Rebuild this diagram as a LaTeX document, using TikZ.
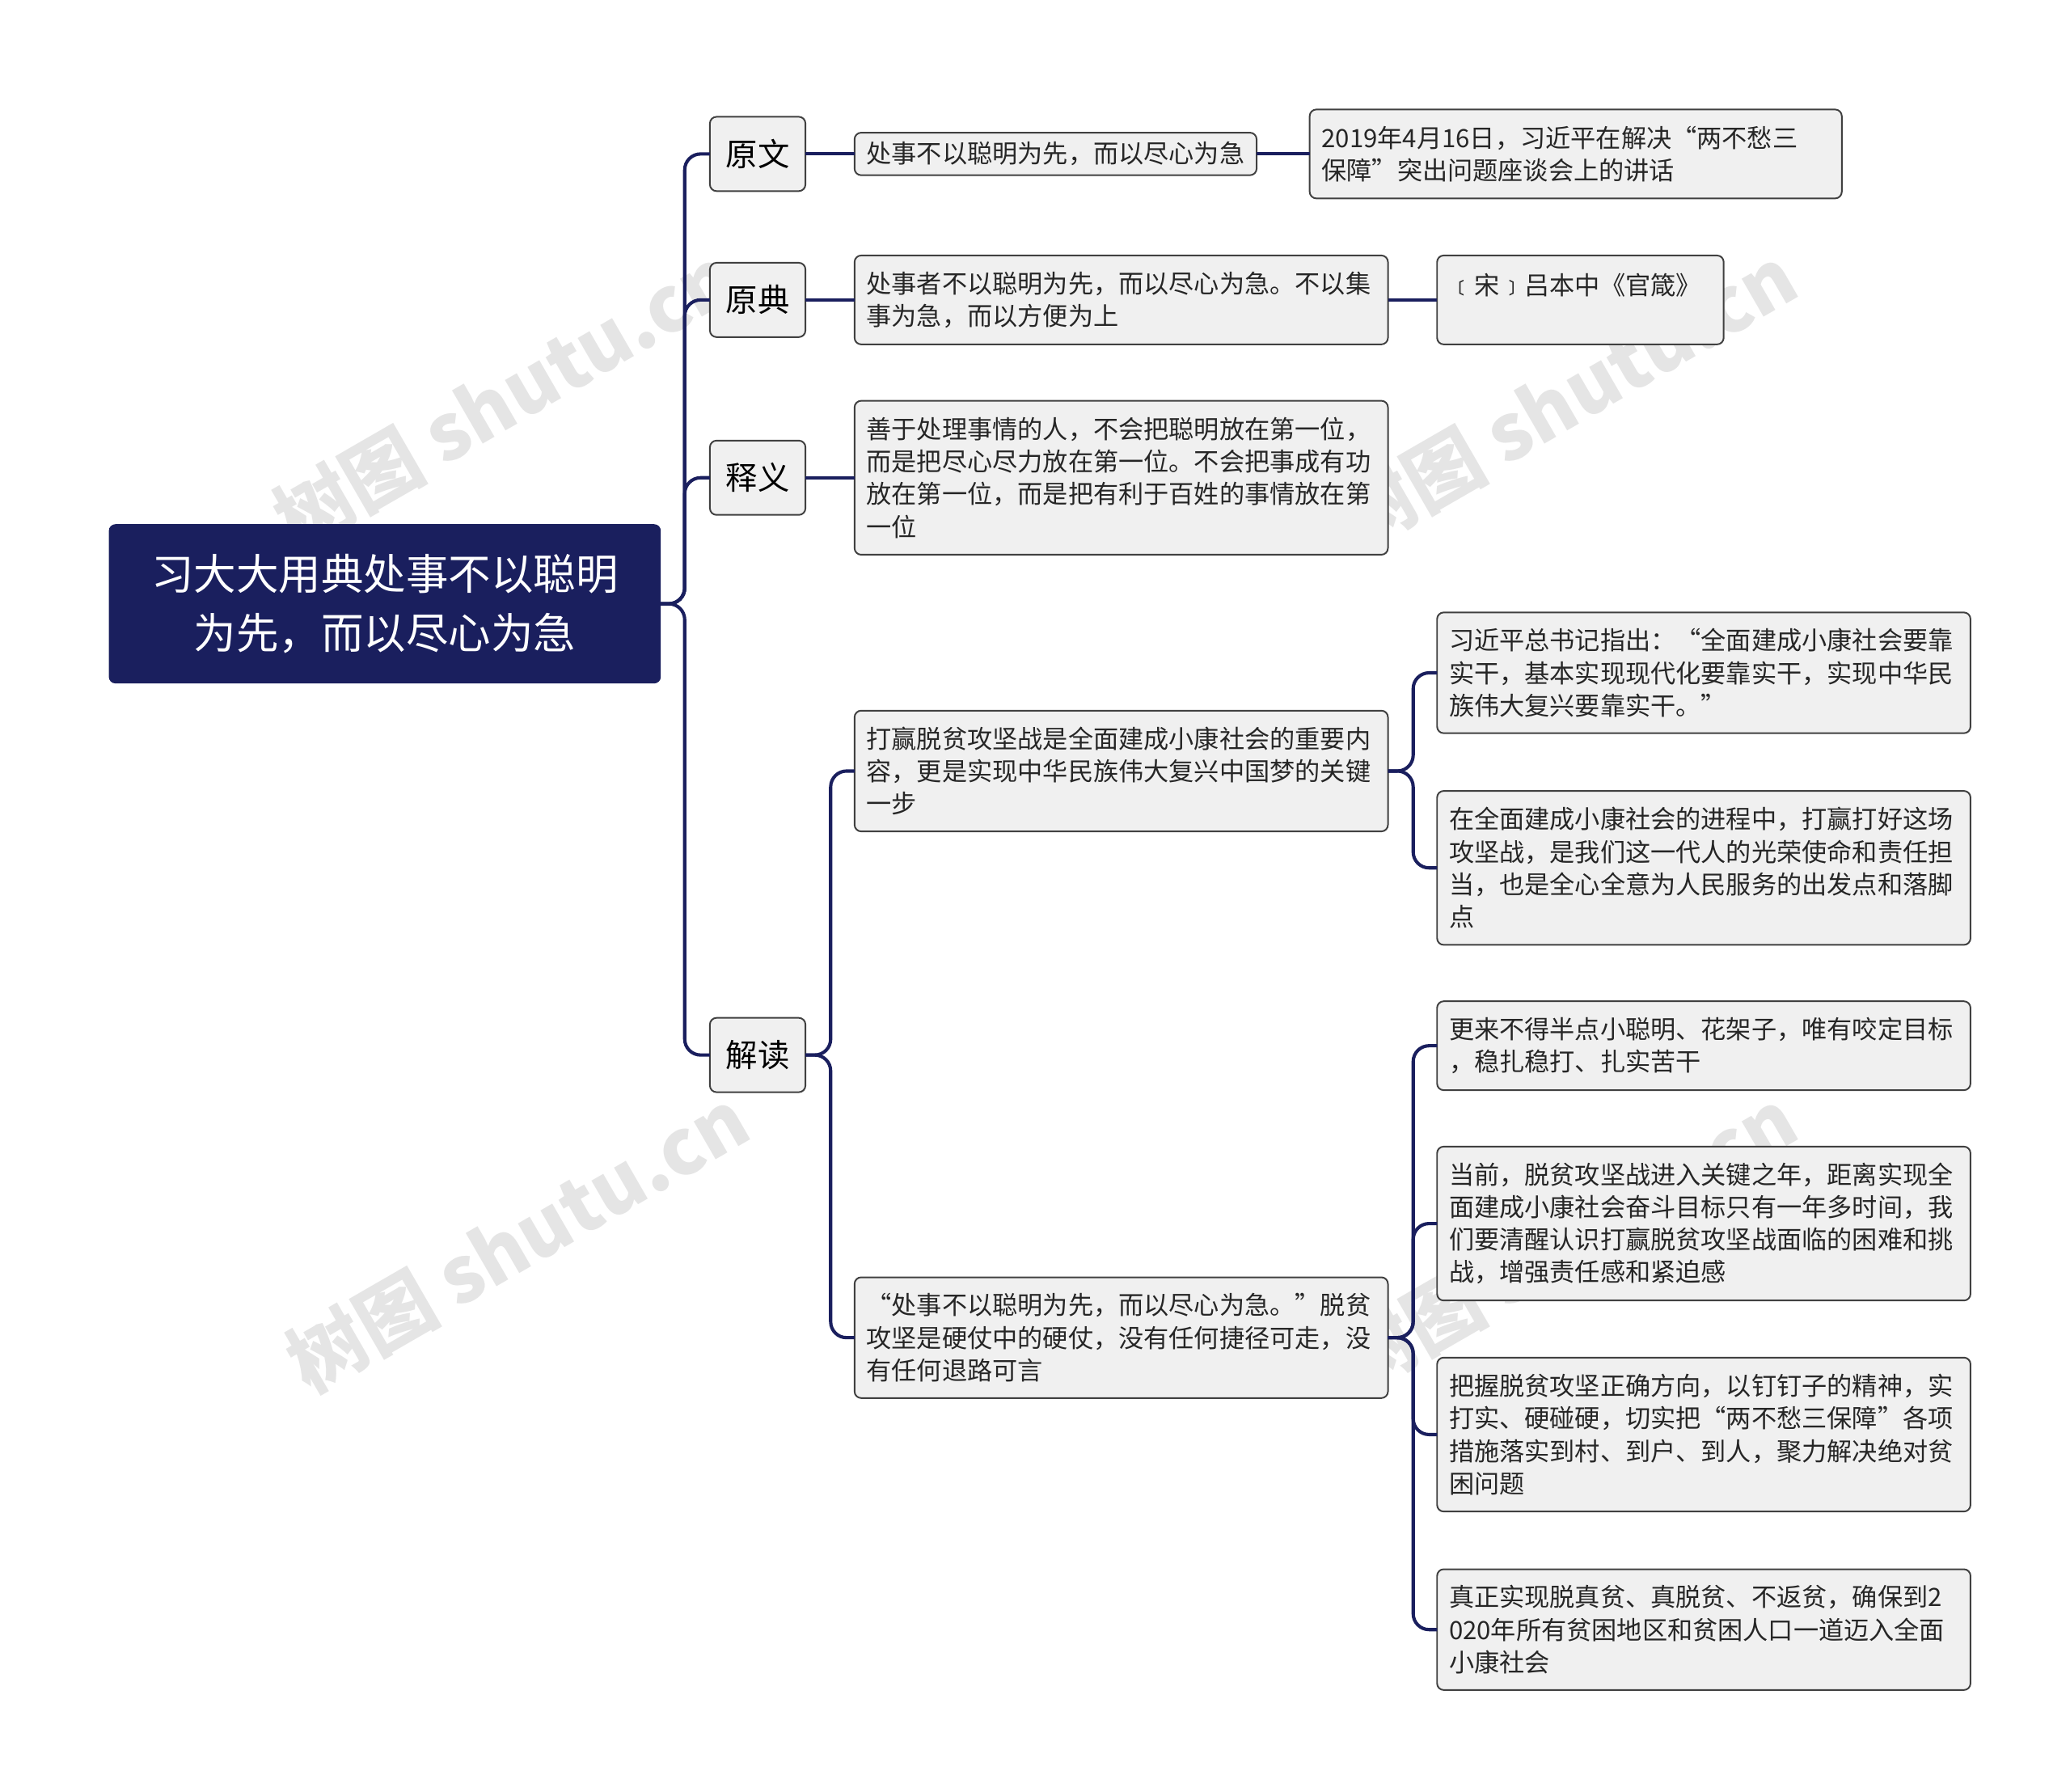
\documentclass[tikz,border=0pt]{standalone}
\usepackage{fontspec}
\setmainfont{Noto Sans CJK SC}
\begin{document}
\begin{tikzpicture}[x=1pt,y=-1pt,
 leaf/.style={draw=black!75,line width=1.2pt,fill=black!6,rounded corners=5pt,align=left,anchor=west,font=\fontsize{19}{24.5}\selectfont,inner xsep=9pt,inner ysep=7pt,text=black!85,outer sep=0pt},
 lvl/.style={draw=black!75,line width=1.2pt,fill=black!6,rounded corners=5pt,anchor=center,font=\fontsize{24}{28}\selectfont,minimum width=72pt,minimum height=56pt,inner sep=0pt,outer sep=0pt},
 conn/.style={draw={rgb,255:red,26;green,31;blue,94},line width=2.5pt,rounded corners=12pt},
 wm/.style={text=black!10,font=\fontsize{58}{60}\selectfont\bfseries,rotate=30}]
\useasboundingbox (0,0) rectangle (1560,1350);
\node[wm] at (380,300) {树图 shutu.cn};
\node[wm] at (1180,300) {树图 shutu.cn};
\node[wm] at (390,935) {树图 shutu.cn};
\node[wm] at (1180,935) {树图 shutu.cn};
\node (root) [fill={rgb,255:red,26;green,31;blue,94},rounded corners=5pt,minimum width=416pt,minimum height=120pt,outer sep=0pt,text=white,align=center,font=\fontsize{32}{44}\selectfont] at (290,455) {习大大用典处事不以聪明\\为先，而以尽心为急};
\node[lvl] (y) at (571,116) {原文};
\node[lvl] (d) at (571,226) {原典};
\node[lvl] (s) at (571,360) {释义};
\node[lvl] (j) at (571,795) {解读};
\node[leaf] (a) at (644,116) {处事不以聪明为先，而以尽心为急};
\node[leaf,text width=384pt,minimum height=67pt] (b) at (644,226) {处事者不以聪明为先，而以尽心为急。不以集\\事为急，而以方便为上};
\node[leaf,text width=384pt,minimum height=116pt] (c) at (644,360) {善于处理事情的人，不会把聪明放在第一位，\\而是把尽心尽力放在第一位。不会把事成有功\\放在第一位，而是把有利于百姓的事情放在第\\一位};
\node[leaf,text width=384pt,minimum height=91pt] (d1) at (644,581) {打赢脱贫攻坚战是全面建成小康社会的重要内\\容，更是实现中华民族伟大复兴中国梦的关键\\一步};
\node[leaf,text width=384pt,minimum height=91pt] (d2) at (644,1008) {“处事不以聪明为先，而以尽心为急。”脱贫\\攻坚是硬仗中的硬仗，没有任何捷径可走，没\\有任何退路可言};
\node[leaf,text width=383pt,minimum height=67pt] (a1) at (987,116) {2019年4月16日，习近平在解决“两不愁三\\保障”突出问题座谈会上的讲话};
\node[leaf,text width=198pt,minimum height=67pt,text depth=24pt] (b1) at (1083,226) {﹝宋﹞吕本中《官箴》};
\node[leaf,text width=384pt,minimum height=91pt] (e1) at (1083,507) {习近平总书记指出：“全面建成小康社会要靠\\实干，基本实现现代化要靠实干，实现中华民\\族伟大复兴要靠实干。”};
\node[leaf,text width=384pt,minimum height=116pt] (e2) at (1083,654) {在全面建成小康社会的进程中，打赢打好这场\\攻坚战，是我们这一代人的光荣使命和责任担\\当，也是全心全意为人民服务的出发点和落脚\\点};
\node[leaf,text width=384pt,minimum height=67pt] (f1) at (1083,788) {更来不得半点小聪明、花架子，唯有咬定目标\\，稳扎稳打、扎实苦干};
\node[leaf,text width=384pt,minimum height=116pt] (f2) at (1083,922) {当前，脱贫攻坚战进入关键之年，距离实现全\\面建成小康社会奋斗目标只有一年多时间，我\\们要清醒认识打赢脱贫攻坚战面临的困难和挑\\战，增强责任感和紧迫感};
\node[leaf,text width=384pt,minimum height=116pt] (f3) at (1083,1081) {把握脱贫攻坚正确方向，以钉钉子的精神，实\\打实、硬碰硬，切实把“两不愁三保障”各项\\措施落实到村、到户、到人，聚力解决绝对贫\\困问题};
\node[leaf,text width=384pt,minimum height=91pt] (f4) at (1083,1228) {真正实现脱真贫、真脱贫、不返贫，确保到2\\020年所有贫困地区和贫困人口一道迈入全面\\小康社会};
\foreach \c in {y,d,s,j} \draw[conn] (root.east) -- (516,455) |- (\c.west);
\draw[conn] (y) -- (a); \draw[conn] (d) -- (b); \draw[conn] (s) -- (c);
\draw[conn] (a) -- (a1); \draw[conn] (b.east) -- (b1.west|-b.east);
\foreach \c in {d1,d2} \draw[conn] (j.east) -- (626,795) |- (\c.west);
\foreach \c in {e1,e2} \draw[conn] (d1.east) -- (1065,581) |- (\c.west);
\foreach \c in {f1,f2,f3,f4} \draw[conn] (d2.east) -- (1065,1008) |- (\c.west);
\end{tikzpicture}
\end{document}
